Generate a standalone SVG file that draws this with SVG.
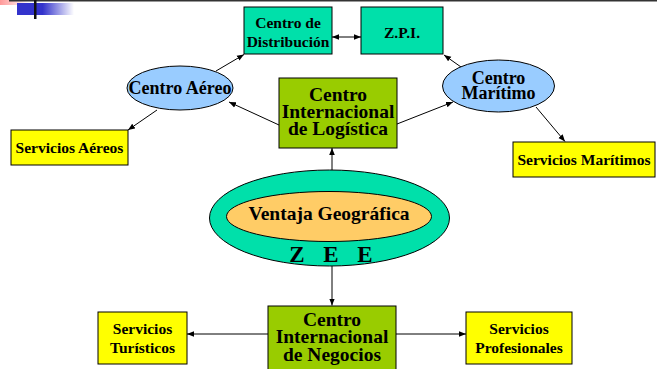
<svg xmlns="http://www.w3.org/2000/svg" width="657" height="369" viewBox="0 0 657 369">
<defs>
<linearGradient id="pink" x1="0" y1="0" x2="1" y2="0"><stop offset="0" stop-color="#FF9999"/><stop offset="1" stop-color="#FFFFFF"/></linearGradient>
<linearGradient id="blue" x1="0" y1="0" x2="1" y2="0"><stop offset="0" stop-color="#3333CC"/><stop offset="0.45" stop-color="#3333CC"/><stop offset="1" stop-color="#FFFFFF"/></linearGradient>
<marker id="ah" viewBox="0 0 10 10" refX="10" refY="5" markerWidth="7" markerHeight="7" orient="auto-start-reverse" markerUnits="userSpaceOnUse"><path d="M0,1 L10,5 L0,9 z" fill="#000"/></marker>
</defs>
<style>
.t{font-family:"Liberation Serif","Times New Roman",serif;font-weight:bold;fill:#000;text-anchor:middle}
.s{font-size:15.5px}
.m{font-size:18px}
.l{font-size:19.5px}
.box{stroke:#000;stroke-width:1}
.teal{fill:#00E0AA}
.yel{fill:#FFFF00}
.grn{fill:#99CC00}
.lb{fill:#99CCFF}
.c{stroke:#000;stroke-width:1;fill:none;marker-end:url(#ah)}
</style>
<rect x="0" y="0" width="657" height="369" fill="#fff"/>
<g id="decor">
<rect x="0" y="0" width="29" height="5" fill="url(#pink)"/>
<rect x="9" y="0" width="648" height="1.5" fill="#333"/>
<rect x="17" y="3" width="57" height="12" fill="url(#blue)"/>
<rect x="34" y="0" width="2.5" height="19" fill="#111"/>
</g>
<g id="connectors">
<line class="c" x1="332" y1="37" x2="361" y2="37" style="marker-start:url(#ah)"/>
<line class="c" x1="216" y1="71" x2="244" y2="54.5"/>
<line class="c" x1="279" y1="125" x2="229" y2="102"/>
<line class="c" x1="157" y1="110" x2="128" y2="130"/>
<line class="c" x1="461" y1="67" x2="444" y2="55"/>
<line class="c" x1="397" y1="124" x2="453" y2="102"/>
<line class="c" x1="536" y1="107" x2="565" y2="141.5"/>
<line class="c" x1="332" y1="170" x2="332" y2="148"/>
<line class="c" x1="332" y1="266" x2="332" y2="305.5"/>
<line class="c" x1="268" y1="334" x2="187" y2="334"/>
<line class="c" x1="396" y1="334" x2="466" y2="334"/>
</g>
<g id="centro-distribucion">
<rect class="box teal" x="244" y="7" width="88" height="47"/>
<text class="t s" x="288" y="28">Centro de</text>
<text class="t s" x="288" y="47">Distribución</text>
</g>
<g id="zpi">
<rect class="box teal" x="361" y="7" width="82" height="47"/>
<text class="t s" x="402" y="38">Z.P.I.</text>
</g>
<g id="centro-aereo">
<ellipse class="box lb" cx="180" cy="88" rx="53" ry="22"/>
<text class="t m" x="180" y="94">Centro Aéreo</text>
</g>
<g id="centro-logistica">
<rect class="box grn" x="279" y="78" width="118" height="70"/>
<text class="t l" x="338" y="101">Centro</text>
<text class="t l" x="338" y="118">Internacional</text>
<text class="t l" x="338" y="135">de Logística</text>
</g>
<g id="centro-maritimo">
<ellipse class="box lb" cx="498.5" cy="86" rx="56" ry="26"/>
<text class="t m" x="498.5" y="84">Centro</text>
<text class="t m" x="498.5" y="99">Marítimo</text>
</g>
<g id="servicios-aereos">
<rect class="box yel" x="11" y="130" width="117" height="35"/>
<text class="t s" x="69.5" y="153">Servicios Aéreos</text>
</g>
<g id="servicios-maritimos">
<rect class="box yel" x="513" y="142" width="142" height="35"/>
<text class="t s" x="584" y="165">Servicios Marítimos</text>
</g>
<g id="zee">
<ellipse class="box teal" cx="329.5" cy="218" rx="120" ry="48"/>
<ellipse class="box" fill="#FFCC66" cx="329" cy="216.5" rx="102.5" ry="25"/>
<text class="t l" x="329" y="220">Ventaja Geográfica</text>
<text class="t" style="font-size:23px" x="297" y="262">Z</text>
<text class="t" style="font-size:23px" x="331" y="262">E</text>
<text class="t" style="font-size:23px" x="365" y="262">E</text>
</g>
<g id="centro-negocios">
<rect class="box grn" x="268" y="306" width="128" height="70"/>
<text class="t l" x="332" y="325.5">Centro</text>
<text class="t l" x="332" y="343">Internacional</text>
<text class="t l" x="332" y="361">de Negocios</text>
</g>
<g id="servicios-turisticos">
<rect class="box yel" x="98" y="312" width="89" height="52"/>
<text class="t s" x="142.5" y="334">Servicios</text>
<text class="t s" x="142.5" y="353">Turísticos</text>
</g>
<g id="servicios-profesionales">
<rect class="box yel" x="466" y="312" width="106" height="52"/>
<text class="t s" x="519" y="334">Servicios</text>
<text class="t s" x="519" y="353">Profesionales</text>
</g>
</svg>
